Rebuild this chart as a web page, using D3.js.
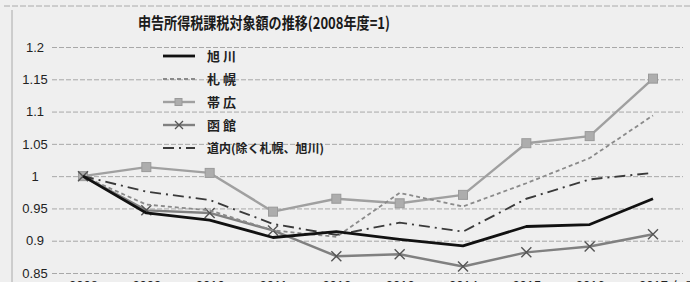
<!DOCTYPE html>
<html>
<head>
<meta charset="utf-8">
<script src="https://cdn.jsdelivr.net/npm/d3@7"></script>
<style>
body { margin: 0; background: #efefef; }
svg { display: block; }
</style>
</head>
<body>
<div id="chart"></div>
<script>
var width = 690;
var height = 282;

// data
var years = ['2008', '2009', '2010', '2011', '2012', '2013', '2014', '2015', '2016', '2017'];
var asahikawa = [1.0, 0.943, 0.932, 0.905, 0.914, 0.902, 0.892, 0.922, 0.925, 0.965];
var sapporo   = [1.0, 0.956, 0.947, 0.916, 0.906, 0.974, 0.953, 0.989, 1.028, 1.094];
var obihiro   = [1.0, 1.014, 1.005, 0.945, 0.965, 0.958, 0.971, 1.051, 1.062, 1.151];
var hakodate  = [1.0, 0.947, 0.943, 0.916, 0.876, 0.879, 0.860, 0.882, 0.891, 0.910];
var dounai    = [1.0, 0.976, 0.963, 0.926, 0.909, 0.928, 0.914, 0.965, 0.995, 1.005];
var yTicks = [0.85, 0.9, 0.95, 1, 1.05, 1.1, 1.15, 1.2];
var tickLabels = ['0.85', '0.9', '0.95', '1', '1.05', '1.1', '1.15', '1.2'];
var seriesNames = ['旭 川', '札 幌', '帯 広', '函 館', '道内(除く札幌、旭川)'];

var series = [
    { name: seriesNames[0], values: asahikawa, color: '#111', width: 2.8, dash: null, marker: null },
    { name: seriesNames[1], values: sapporo, color: '#8a8a8a', width: 1.8, dash: '4,3', marker: null },
    { name: seriesNames[2], values: obihiro, color: '#a0a0a0', width: 2.4, dash: null, marker: 'square' },
    { name: seriesNames[3], values: hakodate, color: '#808080', width: 2.4, dash: null, marker: 'x' },
    { name: seriesNames[4], values: dounai, color: '#3a3a3a', width: 1.9, dash: '11,5,2,5', marker: null }
];

var svg = d3.select('#chart')
    .append('svg')
    .attr('width', width)
    .attr('height', height)
    .style('font-family', '"Noto Sans CJK JP", "Noto Sans", sans-serif');

// frame of the newspaper box
svg.append('line')
    .attr('x1', 4).attr('x2', 690).attr('y1', 6).attr('y2', 6)
    .attr('stroke', '#aaa').attr('stroke-width', 1).attr('stroke-dasharray', '6,2');
svg.append('line')
    .attr('x1', 12).attr('x2', 12).attr('y1', 10).attr('y2', 282)
    .attr('stroke', '#aaa').attr('stroke-width', 1);

var xScale = d3.scalePoint()
    .domain(years)
    .range([83, 653]);

var yScale = d3.scaleLinear()
    .domain([0.85, 1.2])
    .range([273, 47]);

// title
svg.append('text')
    .attr('x', 138)
    .attr('y', 29)
    .attr('font-size', 16)
    .attr('font-weight', 'bold')
    .attr('fill', '#1a1a1a')
    .attr('textLength', 252)
    .attr('lengthAdjust', 'spacingAndGlyphs')
    .text('申告所得税課税対象額の推移(2008年度=1)');

// grid + y labels
var yAxis = d3.axisLeft(yScale)
    .tickValues(yTicks)
    .tickSize(-631)
    .tickFormat((d, i) => tickLabels[i]);

var gy = svg.append('g')
    .attr('transform', 'translate(52,0)')
    .call(yAxis);
gy.select('.domain').remove();
gy.selectAll('.tick line')
    .attr('stroke', '#a8a8a8')
    .attr('stroke-width', 1)
    .attr('stroke-dasharray', '5,2');
gy.selectAll('.tick text')
    .attr('x', -17)
    .attr('text-anchor', 'middle')
    .attr('font-size', 13)
    .attr('fill', '#222')
    .style('font-family', '"Liberation Sans Narrow", "Liberation Sans", sans-serif');

// x labels (cut off at the bottom of the picture)
var xAxis = d3.axisBottom(xScale).tickSize(0);
var gx = svg.append('g')
    .attr('transform', 'translate(0,273)')
    .call(xAxis);
gx.select('.domain').remove();
gx.selectAll('.tick text')
    .attr('y', 8)
    .attr('font-size', 13)
    .attr('fill', '#222')
    .style('font-family', '"Liberation Sans", sans-serif');
svg.append('text')
    .attr('x', 672)
    .attr('y', 291)
    .attr('font-size', 13)
    .attr('fill', '#222')
    .text('年度');

var line = d3.line()
    .x((d, i) => xScale(years[i]))
    .y(d => yScale(d));

var drawOrder = [2, 3, 1, 4, 0];
drawOrder.forEach(k => {
    var s = series[k];
    svg.append('path')
        .datum(s.values)
        .attr('fill', 'none')
        .attr('stroke', s.color)
        .attr('stroke-width', s.width)
        .attr('stroke-dasharray', s.dash)
        .attr('stroke-linejoin', 'round')
        .attr('d', line);

    if (s.marker == 'square') {
        svg.selectAll('.sq')
            .data(s.values)
            .enter()
            .append('rect')
            .attr('x', (d, i) => xScale(years[i]) - 4.5)
            .attr('y', d => yScale(d) - 4.5)
            .attr('width', 9)
            .attr('height', 9)
            .attr('fill', '#adadad')
            .attr('stroke', '#9a9a9a');
    }
    if (s.marker == 'x') {
        svg.selectAll('.xm')
            .data(s.values)
            .enter()
            .append('path')
            .attr('d', (d, i) => {
                var cx = xScale(years[i]), cy = yScale(d);
                return 'M' + (cx - 5) + ',' + (cy - 5) + 'L' + (cx + 5) + ',' + (cy + 5) +
                    'M' + (cx - 5) + ',' + (cy + 5) + 'L' + (cx + 5) + ',' + (cy - 5);
            })
            .attr('stroke', '#555')
            .attr('stroke-width', 1.4);
    }
});

// legend
var legendY = d3.scalePoint()
    .domain(seriesNames)
    .range([56, 148]);

series.forEach(s => {
    var y = legendY(s.name);
    svg.append('line')
        .attr('x1', 163).attr('x2', 195)
        .attr('y1', y).attr('y2', y)
        .attr('stroke', s.color)
        .attr('stroke-width', s.width)
        .attr('stroke-dasharray', s.dash);
    if (s.marker == 'square') {
        svg.append('rect')
            .attr('x', 175).attr('y', y - 3.5)
            .attr('width', 7).attr('height', 7)
            .attr('fill', '#adadad').attr('stroke', '#9a9a9a');
    }
    if (s.marker == 'x') {
        svg.append('path')
            .attr('d', 'M175,' + (y - 4) + 'L183,' + (y + 4) + 'M175,' + (y + 4) + 'L183,' + (y - 4))
            .attr('stroke', '#555').attr('stroke-width', 1.3);
    }
    svg.append('text')
        .attr('x', 207)
        .attr('y', y + 5)
        .attr('font-size', s.name.length > 5 ? 12 : 13)
        .attr('font-weight', 'bold')
        .attr('fill', '#222')
        .text(s.name);
});
</script>
</body>
</html>
